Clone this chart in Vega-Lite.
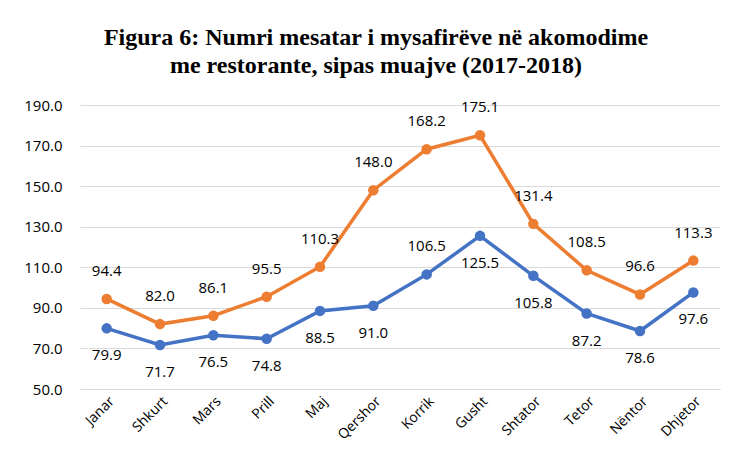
{
  "$schema": "https://vega.github.io/schema/vega-lite/v6.json",
  "autosize": "none",
  "width": 640,
  "height": 284,
  "padding": {"left": 80, "top": 105, "right": 13, "bottom": 79},
  "background": "white",
  "title": {
    "text": ["Figura 6: Numri mesatar i mysafirëve në akomodime", "me restorante, sipas muajve (2017-2018)"],
    "font": "Liberation Serif",
    "fontSize": 24,
    "fontWeight": "bold",
    "color": "#000000",
    "anchor": "middle",
    "dx": -24,
    "offset": 20,
    "lineHeight": 28
  },
  "config": {
    "view": {"stroke": null},
    "font": "Open Sans"
  },
  "data": {
    "values": [
      {"month": "Janar", "year": "2017", "value": 79.9},
      {"month": "Shkurt", "year": "2017", "value": 71.7},
      {"month": "Mars", "year": "2017", "value": 76.5},
      {"month": "Prill", "year": "2017", "value": 74.8},
      {"month": "Maj", "year": "2017", "value": 88.5},
      {"month": "Qershor", "year": "2017", "value": 91.0},
      {"month": "Korrik", "year": "2017", "value": 106.5},
      {"month": "Gusht", "year": "2017", "value": 125.5},
      {"month": "Shtator", "year": "2017", "value": 105.8},
      {"month": "Tetor", "year": "2017", "value": 87.2},
      {"month": "Nëntor", "year": "2017", "value": 78.6},
      {"month": "Dhjetor", "year": "2017", "value": 97.6},
      {"month": "Janar", "year": "2018", "value": 94.4},
      {"month": "Shkurt", "year": "2018", "value": 82.0},
      {"month": "Mars", "year": "2018", "value": 86.1},
      {"month": "Prill", "year": "2018", "value": 95.5},
      {"month": "Maj", "year": "2018", "value": 110.3},
      {"month": "Qershor", "year": "2018", "value": 148.0},
      {"month": "Korrik", "year": "2018", "value": 168.2},
      {"month": "Gusht", "year": "2018", "value": 175.1},
      {"month": "Shtator", "year": "2018", "value": 131.4},
      {"month": "Tetor", "year": "2018", "value": 108.5},
      {"month": "Nëntor", "year": "2018", "value": 96.6},
      {"month": "Dhjetor", "year": "2018", "value": 113.3}
    ]
  },
  "encoding": {
    "x": {
      "field": "month",
      "type": "nominal",
      "sort": null,
      "scale": {"paddingInner": 0, "paddingOuter": 0.5},
      "axis": {
        "title": null,
        "labelAngle": -45,
        "labelAlign": "right",
        "labelBaseline": "top",
        "labelFontSize": 14,
        "labelColor": "#000000",
        "labelPadding": 5,
        "ticks": false,
        "domainColor": "#d9d9d9",
        "domainWidth": 1
      }
    },
    "y": {
      "field": "value",
      "type": "quantitative",
      "scale": {"domain": [50, 190], "zero": false, "nice": false},
      "axis": {
        "title": null,
        "values": [50, 70, 90, 110, 130, 150, 170, 190],
        "format": ".1f",
        "labelFontSize": 15,
        "labelColor": "#000000",
        "labelPadding": 18,
        "ticks": false,
        "domain": false,
        "gridColor": "#d9d9d9",
        "gridWidth": 1
      }
    },
    "color": {
      "field": "year",
      "type": "nominal",
      "scale": {"domain": ["2017", "2018"], "range": ["#4472C4", "#ED7D31"]},
      "legend": null
    }
  },
  "layer": [
    {
      "mark": {"type": "line", "strokeWidth": 3.5, "point": {"filled": true, "size": 110, "opacity": 1}}
    },
    {
      "transform": [{"filter": "datum.year == '2018' || datum.month == 'Korrik'"}],
      "mark": {"type": "text", "dy": -28, "fontSize": 15, "color": "#000000"},
      "encoding": {
        "text": {"field": "value", "type": "quantitative", "format": ".1f"},
        "color": {"value": "#000000"}
      }
    },
    {
      "transform": [{"filter": "datum.year == '2017' && datum.month != 'Korrik'"}],
      "mark": {"type": "text", "dy": 27, "fontSize": 15, "color": "#000000"},
      "encoding": {
        "text": {"field": "value", "type": "quantitative", "format": ".1f"},
        "color": {"value": "#000000"}
      }
    }
  ]
}
